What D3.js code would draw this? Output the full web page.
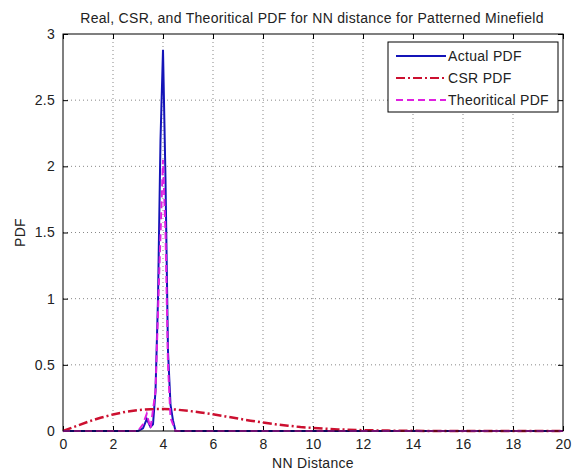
<!DOCTYPE html>
<html lang="en">
    <head>
        <meta charset="UTF-8">
        <script src="https://d3js.org/d3.v7.min.js"></script>
        <title>NN distance PDF</title>
        <style>
            body { margin: 0; background: #fff; }
        </style>
    </head>
    <body>
        <div id="container"></div>
    </body>
    <script>
        // values
        const actualX = [0, 3.0, 3.2, 3.35, 3.5, 3.6, 3.7, 3.8, 3.9, 4.0, 4.1, 4.2, 4.3, 4.4, 4.5, 20];
        const actualY = [0, 0, 0.02, 0.09, 0.03, 0.05, 0.3, 1.0, 2.2, 2.88, 1.9, 0.6, 0.2, 0.08, 0, 0];

        const csrX = [0, 0.5, 1, 1.5, 2, 2.5, 3, 3.5, 4, 4.5, 5, 5.5, 6, 6.5, 7, 7.5, 8, 8.5, 9, 9.5, 10, 10.5, 11, 12, 13, 14, 15, 16, 17, 18, 19, 20];
        const csrY = [0, 0.035, 0.07, 0.1, 0.125, 0.145, 0.158, 0.165, 0.166, 0.162, 0.153, 0.14, 0.126, 0.11, 0.094, 0.078, 0.064, 0.051, 0.04, 0.03, 0.023, 0.017, 0.012, 0.006, 0.003, 0.001, 0.0005, 0, 0, 0, 0, 0];

        const theoX = [0, 3.0, 3.2, 3.35, 3.5, 3.7, 3.85, 4.0, 4.1, 4.2, 4.3, 4.5, 20];
        const theoY = [0, 0, 0.05, 0.13, 0.02, 0.3, 1.2, 2.05, 1.5, 0.5, 0.1, 0, 0];

        const xTicks = [0, 2, 4, 6, 8, 10, 12, 14, 16, 18, 20];
        const yTicks = [0, 0.5, 1, 1.5, 2, 2.5, 3];

        const series = [
            {name: 'Actual PDF', xs: actualX, ys: actualY, color: '#1414b8', dash: null},
            {name: 'CSR PDF', xs: csrX, ys: csrY, color: '#cc1030', dash: '9,3,2,3'},
            {name: 'Theoritical PDF', xs: theoX, ys: theoY, color: '#e020e0', dash: '7,4'}
        ];

        const width = 572;
        const height = 472;
        const plot = {left: 63, right: 563, top: 34, bottom: 431};
        const font = '"Liberation Sans", Arial, sans-serif';
        const textColor = '#222';

        const x = d3.scaleLinear().domain([0, 20]).range([plot.left, plot.right]);
        const y = d3.scaleLinear().domain([0, 3]).range([plot.bottom, plot.top]);

        const svg = d3.select('#container')
            .append('svg')
            .attr('width', width)
            .attr('height', height)
            .style('font-family', font)
            .style('letter-spacing', '0.3px');

        // grid
        const grid = svg.append('g')
            .attr('stroke', '#555')
            .attr('stroke-width', 0.7)
            .attr('stroke-dasharray', '1,3');
        grid.selectAll('.gx')
            .data(xTicks.slice(1, -1))
            .enter()
            .append('line')
            .attr('x1', d => x(d)).attr('x2', d => x(d))
            .attr('y1', plot.top).attr('y2', plot.bottom);
        grid.selectAll('.gy')
            .data(yTicks.slice(1, -1))
            .enter()
            .append('line')
            .attr('y1', d => y(d)).attr('y2', d => y(d))
            .attr('x1', plot.left).attr('x2', plot.right);

        // axes, ticks pointing inside, on all four sides
        const bottomAxis = d3.axisBottom(x).tickValues(xTicks).tickSize(-5).tickPadding(8).tickFormat(d3.format('d'));
        const topAxis = d3.axisTop(x).tickValues(xTicks).tickSize(-5).tickFormat('');
        const leftAxis = d3.axisLeft(y).tickValues(yTicks).tickSize(-5).tickPadding(8).tickFormat(d => String(d));
        const rightAxis = d3.axisRight(y).tickValues(yTicks).tickSize(-5).tickFormat('');

        function styleAxis(g) {
            g.select('.domain').remove();
            g.selectAll('line').attr('stroke', '#000');
            g.selectAll('text')
                .style('font-family', font)
                .style('font-size', '14px')
                .attr('fill', textColor);
        }

        svg.append('g').attr('transform', `translate(0,${plot.bottom})`).call(bottomAxis).call(styleAxis);
        svg.append('g').attr('transform', `translate(0,${plot.top})`).call(topAxis).call(styleAxis);
        svg.append('g').attr('transform', `translate(${plot.left},0)`).call(leftAxis).call(styleAxis);
        svg.append('g').attr('transform', `translate(${plot.right},0)`).call(rightAxis).call(styleAxis);

        // lines
        const line = d3.line()
            .x(d => x(d[0]))
            .y(d => y(d[1]));

        svg.append('g')
            .selectAll('path')
            .data(series)
            .enter()
            .append('path')
            .attr('d', s => line(s.xs.map((v, i) => [v, s.ys[i]])))
            .attr('fill', 'none')
            .attr('stroke', s => s.color)
            .attr('stroke-width', (s, i) => i === 1 ? 2.5 : 2)
            .attr('stroke-dasharray', s => s.dash);

        // frame
        svg.append('rect')
            .attr('x', plot.left).attr('y', plot.top)
            .attr('width', plot.right - plot.left)
            .attr('height', plot.bottom - plot.top)
            .attr('fill', 'none')
            .attr('stroke', '#000')
            .attr('stroke-width', 1);

        // legend
        const legend = svg.append('g');
        legend.append('rect')
            .attr('x', 388).attr('y', 42)
            .attr('width', 170).attr('height', 70)
            .attr('fill', '#fff')
            .attr('stroke', '#000');
        const rows = legend.selectAll('.row')
            .data(series)
            .enter()
            .append('g')
            .attr('transform', (d, i) => `translate(0,${[56, 78, 100][i]})`);
        rows.append('line')
            .attr('x1', 396).attr('x2', 446)
            .attr('stroke', d => d.color)
            .attr('stroke-width', 2)
            .attr('stroke-dasharray', d => d.dash);
        rows.append('text')
            .attr('x', 448).attr('y', 5)
            .attr('fill', textColor)
            .style('font-size', '14px')
            .text(d => d.name);

        // titles
        svg.append('text')
            .attr('x', 312).attr('y', 23)
            .attr('text-anchor', 'middle')
            .attr('fill', textColor)
            .style('font-size', '14px')
            .text('Real, CSR, and Theoritical PDF for NN distance for Patterned Minefield');
        svg.append('text')
            .attr('x', 313).attr('y', 468)
            .attr('text-anchor', 'middle')
            .attr('fill', textColor)
            .style('font-size', '14px')
            .text('NN Distance');
        svg.append('text')
            .attr('transform', `translate(25,${(plot.top + plot.bottom) / 2}) rotate(-90)`)
            .attr('text-anchor', 'middle')
            .attr('fill', textColor)
            .style('font-size', '14px')
            .text('PDF');
    </script>
</html>
